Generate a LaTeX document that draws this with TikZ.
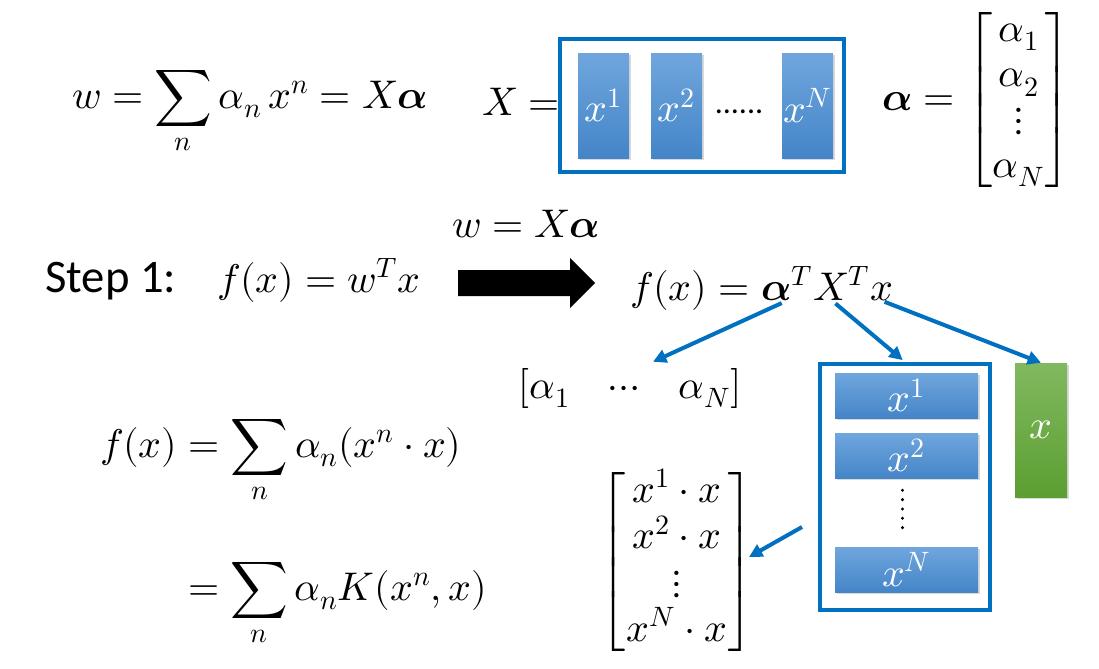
\documentclass[tikz,border=0pt]{standalone}
\usepackage{amsmath}
\usepackage{fontspec}
\usepackage{unicode-math}
\setmathfont{Latin Modern Math}
\newfontfamily\stepfont{Carlito}
\usepackage{tikz}
\usetikzlibrary{arrows.meta, positioning, shadows}
\definecolor{frameblue}{RGB}{0,112,192}
\definecolor{bartop}{RGB}{112,166,221}
\definecolor{barbottom}{RGB}{68,133,200}
\definecolor{greentop}{RGB}{128,185,95}
\definecolor{greenbottom}{RGB}{92,158,50}
\newdimen\px \px=0.75pt

\begin{document}
\begin{tikzpicture}[
  x=1\px, y=-1\px,
  eq/.style={inner sep=0pt, font=\fontsize{30}{34}\selectfont},
  frame/.style={draw=frameblue, line width=3pt, inner sep=0pt},
  vbar/.style={eq, text=white, top color=bartop, bottom color=barbottom,
    drop shadow={shadow xshift=1.2pt, shadow yshift=-1.2pt, opacity=0.3}},
  gbar/.style={vbar, top color=greentop, bottom color=greenbottom},
  bluearrow/.style={draw=frameblue, line width=3pt, -{Triangle[length=10pt, width=10pt]}},
  dotline/.style={line width=2.5pt, line cap=round, dash pattern=on 0pt off 7pt},
]
  \useasboundingbox (0,0) rectangle (1099,668);

  % Top line
  \node[eq, anchor=base west] (wsum) at (72,108) {$w = \displaystyle\sum_n \alpha_n\, x^n = X\symbfit{\alpha}$};
  \node[eq, anchor=base west] (Xeq) at (482,115) {$X =$};
  \node[frame, minimum width=284\px, minimum height=133\px] (Xframe) at (702,105.5) {};
  \node[vbar, minimum width=51\px, minimum height=105\px] (xbar1) at (603.5,105.5) {$x^1$};
  \node[vbar, minimum width=51\px, minimum height=105\px] (xbar2) at (676.5,105.5) {$x^2$};
  \node[vbar, minimum width=51\px, minimum height=105\px] (xbarN) at (807.5,105.5) {$x^N$};
  \node[inner sep=0pt, font=\stepfont\fontsize{24}{28}\selectfont] (xdots) at (739,112) {......};
  \node[eq, anchor=base west] (alphavec) at (882,110) {$\symbfit{\alpha} = \begin{bmatrix}\alpha_1\\ \alpha_2\\ \vdots\\ \alpha_N\end{bmatrix}$};

  % Step 1
  \node[eq, anchor=base west] (wXa) at (452,237) {$w = X\symbfit{\alpha}$};
  \node[anchor=base west, inner sep=0pt, font=\stepfont\fontsize{35}{40}\selectfont] (step) at (45,292) {Step 1:};
  \node[eq, anchor=base west] (fw) at (217,292) {$f(x) = w^T x$};
  \coordinate (bigtail) at (458,283);
  \fill (bigtail) ++(0,-13) -- ++(112,0) -- ++(0,-12) -- ++(25,25) -- ++(-25,25) -- ++(0,-12) -- ++(-112,0) -- cycle;
  \node[eq, anchor=base west] (fa) at (630,300) {$f(x) ={}$};
  \node[eq, base right=0pt of fa] (faA) {$\symbfit{\alpha}^T$};
  \node[eq, base right=0pt of faA] (faX) {$X^T$};
  \node[eq, base right=0pt of faX] (fax) {$x$};

  % Pieces
  \node[eq, anchor=base] (alpharow) at (630,398) {$[\alpha_1\hskip0.8em\cdots\hskip0.8em\alpha_N]$};
  \node[frame, minimum width=170\px, minimum height=246\px] (Xtframe) at (905,487) {};
  \node[vbar, minimum width=143\px, minimum height=45\px] (xrow1) at (906.5,395.5) {$x^1$};
  \node[vbar, minimum width=143\px, minimum height=45\px] (xrow2) at (906.5,455.5) {$x^2$};
  \node[vbar, minimum width=143\px, minimum height=45\px] (xrowN) at (906.5,569.5) {$x^N$};
  \draw[dotline, shorten <=12\px, shorten >=10\px] ([xshift=-4\px]xrow2.south) -- ([xshift=-4\px]xrowN.north);
  \node[gbar, minimum width=52\px, minimum height=134\px] (xcol) at (1041,430) {$x$};
  \node[eq] (xvec) at (677,562) {$\begin{bmatrix} x^1\cdot x\\ x^2\cdot x\\ \vdots\\ x^N\cdot x\end{bmatrix}$};

  % Sums
  \node[eq, anchor=base west] (fsum) at (100,457) {$f(x) = \displaystyle\sum_n \alpha_n(x^n\cdot x)$};
  \node[eq, anchor=base west] (Ksum) at (188,600) {$= \displaystyle\sum_n \alpha_n K(x^n, x)$};

  % Arrows
  \draw[bluearrow, shorten <=6\px] (faA.south) -- ([xshift=23\px, yshift=6\px]alpharow.north);
  \draw[bluearrow, shorten <=5\px, shorten >=3\px] ([xshift=-10\px]faX.south) -- (Xtframe.north);
  \draw[bluearrow, shorten <=3\px] (fax.south) -- (xcol.north);
  \draw[bluearrow] ([shift={(-16,40)}]Xtframe.west) -- ([shift={(72,-5)}]xvec.center);
\end{tikzpicture}
\end{document}
